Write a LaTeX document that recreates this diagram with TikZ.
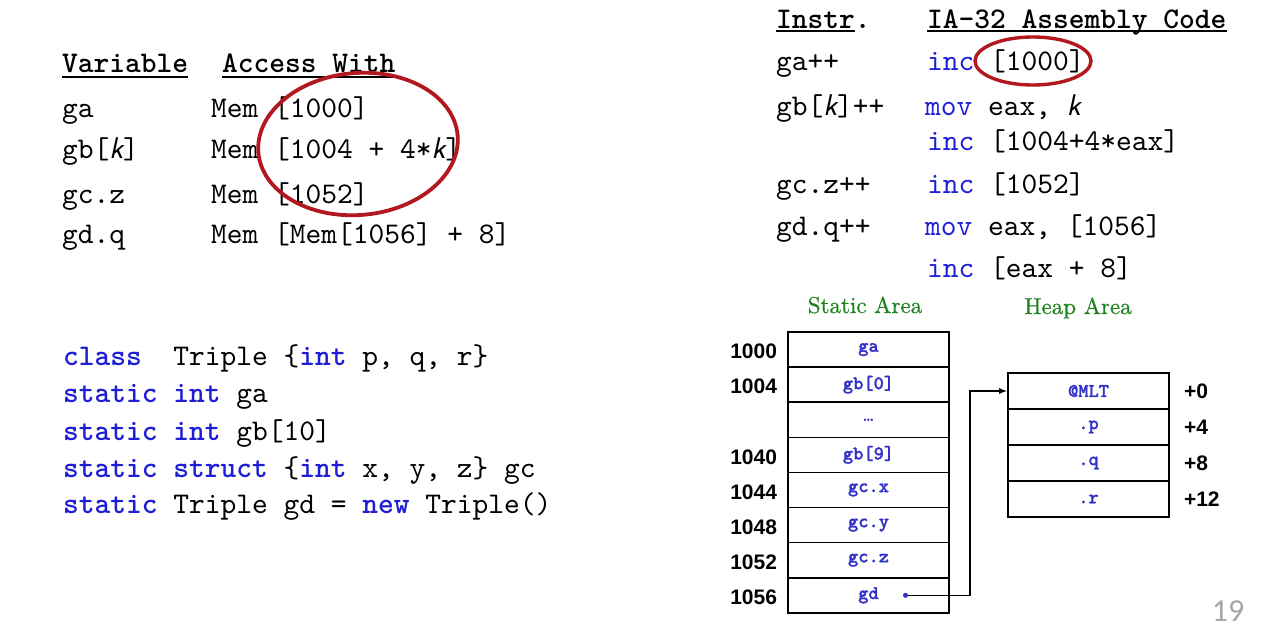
\documentclass[tikz,border=0pt]{standalone}
\usepackage{fontspec}
\usetikzlibrary{calc, positioning}
\usetikzlibrary{arrows.meta}

\newfontfamily\addrfont{Liberation Sans}
\newfontfamily\pagefont{Carlito}
\newfontfamily\codett{lmmono10-regular.otf}[BoldFont=lmmonolt10-bold.otf]
\newfontfamily\cellfont{lmmonolt10-bold.otf}[FakeBold=1.2]
\newfontfamily\areafont{lmroman10-regular.otf}[FakeBold=0.6]

\definecolor{kwblue}{RGB}{30,30,215}
\definecolor{memblue}{RGB}{50,50,200}
\definecolor{areagreen}{RGB}{30,130,30}
\definecolor{circred}{RGB}{178,24,30}

\newcommand\codefont{\fontsize{30}{36}\selectfont\codett}
\newcommand\kw[1]{\textcolor{kwblue}{\textbf{#1}}}
\newcommand\op[1]{\textcolor{kwblue}{#1}}
\newcommand\kvar{{\sffamily\itshape k}}

\tikzset{
  code/.style={font=\codefont, anchor=base west, inner sep=0pt},
  uline/.style={line width=1.6pt},
  ring/.style={draw=circred, line width=3.8pt},
  cell/.style={draw, line width=1.6pt, minimum width=161pt, inner sep=0pt,
    font=\fontsize{19.5}{20}\selectfont\cellfont, text=memblue},
  addr/.style={font=\addrfont\bfseries\fontsize{21}{22}\selectfont, inner sep=0pt},
  area/.style={font=\areafont\fontsize{23}{24}\selectfont, text=areagreen, anchor=base},
  ptr/.style={line width=1.4pt, -{Latex[length=8pt,width=6pt]}}
}

\begin{document}
\begin{tikzpicture}[x=1pt,y=-1pt]
\fill[white] (0,0) rectangle (1277,637);
\useasboundingbox (0,0) rectangle (1277,637);

% access table
\node[code] (hVar) at (62,72) {\textbf{Variable}};
\node[code] (hAcc) at (222,72) {\textbf{Access With}};
\draw[uline] ($(hVar.base west)+(0,5)$) -- ($(hVar.base east)+(0,5)$);
\draw[uline] ($(hAcc.base west)+(0,5)$) -- ($(hAcc.base east)+(0,5)$);

\node[code] (vA) at (62,117) {ga};
\node[code] (vB) at (62,158) {gb[\kvar]};
\node[code] (vC) at (62,203) {gc.z};
\node[code] (vD) at (62,243) {gd.q};
\node[code] (mA) at (211,117) {Mem [1000]};
\node[code] (mB) at (211,158) {Mem [1004 + 4*\kvar]};
\node[code] (mC) at (211,203) {Mem [1052]};
\node[code] (mD) at (211,243) {Mem [Mem[1056] + 8]};

\draw[ring, rotate around={5:(358,144)}] (358,144) ellipse [x radius=100, y radius=71];

% instructions
\node[code] (hInstr) at (776,28) {\textbf{Instr.}};
\node[code] (hAsm) at (927,28) {\textbf{IA-32 Assembly Code}};
\draw[uline] ($(hInstr.base west)+(0,3)$) -- ($(hInstr.base east)+(-15.75,3)$);
\draw[uline] ($(hAsm.base west)+(0,3)$) -- ($(hAsm.base east)+(0,3)$);

\node[code] (iA) at (776,70) {ga++};
\node[code] (iB) at (776,115) {gb[\kvar]++};
\node[code] (iC) at (776,193) {gc.z++};
\node[code] (iD) at (776,235) {gd.q++};
\node[code] (aA) at (927,70) {\op{inc} [1000]};
\node[code] (aB) at (925,115) {\op{mov} eax, \kvar};
\node[code] (aB2) at (927,150) {\op{inc} [1004+4*eax]};
\node[code] (aC) at (927,193) {\op{inc} [1052]};
\node[code] (aD) at (925,235) {\op{mov} eax, [1056]};
\node[code] (aD2) at (927,277) {\op{inc} [eax + 8]};

\draw[ring, line width=3.4pt] (1033,61) ellipse [x radius=58, y radius=24];

% declarations
\node[code] (d1) at (63,365) {\kw{class}\ \ Triple \{\kw{int} p, q, r\}};
\node[code] (d2) at (63,402) {\kw{static} \kw{int} ga};
\node[code] (d3) at (63,440) {\kw{static} \kw{int} gb[10]};
\node[code] (d4) at (63,477) {\kw{static} \kw{struct} \{\kw{int} x, y, z\} gc};
\node[code] (d5) at (63,513) {\kw{static} Triple gd = \kw{new} Triple()};

% static area
\node[area] (static) at (865,313) {Static Area};
\foreach \lab/\adr [count=\i] in {ga/1000, gb[0]/1004, {\codett\dots}/, gb[9]/1040,
    gc.x/1044, gc.y/1048, gc.z/1052, gd/1056} {
  \node[cell, minimum height=35.1pt] (s\i) at (868.5,{349.6+35.1*(\i-1)}) {\lab};
  \node[addr, anchor=east] (adr\i) at ($(s\i.west)+(-10,2)$) {\adr};
}
\node[circle, fill=memblue, inner sep=1.8pt] (gdptr) at ($(s8.center)+(37,0)$) {};

% heap area
\node[area] (heap) at (1078,314) {Heap Area};
\foreach \lab/\off [count=\i] in {@MLT/+0, .p/+4, .q/+8, .r/+12} {
  \node[cell, minimum height=36pt] (h\i) at (1088.5,{391+36*(\i-1)}) {\lab};
  \node[addr, anchor=west] (off\i) at ($(h\i.east)+(14,0)$) {\off};
}

\coordinate (bend) at (970,0);
\draw[ptr] (gdptr) -| (bend |- h1.west) -- (h1.west);

\node[font=\pagefont\fontsize{32}{34}\selectfont, text=black!35] (page) at (1228,611) {19};
\end{tikzpicture}
\end{document}
